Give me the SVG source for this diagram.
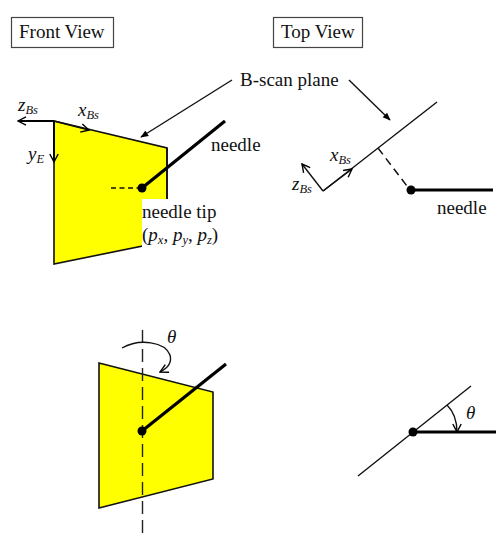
<svg xmlns="http://www.w3.org/2000/svg" width="502" height="540" viewBox="0 0 502 540">
<defs>
<marker id="o" viewBox="0 0 10 10" refX="9" refY="5" markerWidth="10" markerHeight="10" markerUnits="userSpaceOnUse" orient="auto"><path d="M1 0.8L9 5L1 9.2" fill="none" stroke="#000" stroke-width="1.4"/></marker>
<marker id="f" viewBox="0 0 10 10" refX="9" refY="5" markerWidth="8" markerHeight="8" markerUnits="userSpaceOnUse" orient="auto"><path d="M0 1L10 5L0 9z" fill="#000"/></marker>
</defs>
<style>
text{font-family:"Liberation Serif","Times New Roman",serif;fill:#111;font-size:19px}
.i{font-style:italic}
.s{font-size:12.500px;font-style:italic}
.b{fill:#fff;stroke:#444;stroke-width:1.2}
.p{fill:#ff0;stroke:#111;stroke-width:1.6}
.l{fill:none;stroke:#111;stroke-width:1.4}
.m{fill:none;stroke:#000;stroke-width:1.8}
.n{fill:none;stroke:#000;stroke-width:3.2}
.d{fill:none;stroke:#111;stroke-width:1.5;stroke-dasharray:5 3.500}
.a{fill:none;stroke:#222;stroke-width:1.4;stroke-dasharray:13 6}
</style>
<g id="plane-front">
<path class="p" d="M54 121L167 148V241L54 264Z"/>
<rect x="142" y="199" width="30" height="48" fill="#fff"/>
<path d="M167 148V199" class="p"/>
</g>
<g id="plane-rotated">
<path class="p" d="M99 363L213 392V479L99 508Z"/>
</g>
<g id="connectors">
<line class="m" x1="54" y1="121" x2="18" y2="121" marker-end="url(#o)"/>
<line class="m" x1="54" y1="121" x2="54" y2="162" marker-end="url(#o)"/>
<line class="l" x1="54" y1="121" x2="89" y2="130" marker-end="url(#o)"/>
<line class="d" x1="111" y1="188" x2="141" y2="188"/>
<line class="n" x1="142" y1="188" x2="225" y2="121"/>
<line class="l" x1="232" y1="80" x2="141" y2="137" marker-end="url(#f)"/>
<line class="l" x1="349" y1="80" x2="390" y2="120" marker-end="url(#f)"/>
<line class="l" x1="323" y1="191" x2="437" y2="102"/>
<line class="l" x1="323" y1="191" x2="352" y2="169" marker-end="url(#o)"/>
<line class="l" x1="323" y1="191" x2="302" y2="164" marker-end="url(#o)"/>
<line class="d" x1="378" y1="148" x2="410" y2="190" style="stroke-dasharray:8 5"/>
<line class="n" x1="411" y1="190" x2="493" y2="190"/>
<line class="a" x1="142.500" y1="330" x2="142.500" y2="535"/>
<line class="n" x1="142" y1="431" x2="226" y2="364"/>
<path class="l" d="M122 348C140 338 165 342 170 355C172 362 168 368 160 372" marker-end="url(#o)"/>
<line class="l" x1="358" y1="476" x2="471" y2="386"/>
<line class="n" x1="413" y1="432" x2="496" y2="432"/>
<path class="l" d="M447 405C455 413 457 422 457 432" marker-end="url(#o)"/>
</g>
<g id="needle-tip-front"><circle cx="142" cy="188" r="4.500" fill="#000"/></g>
<g id="needle-tip-top"><circle cx="411" cy="190" r="4.500" fill="#000"/></g>
<g id="needle-tip-rotated"><circle cx="142" cy="431" r="4.500" fill="#000"/></g>
<g id="needle-tip-rotated-top"><circle cx="413" cy="432" r="4.500" fill="#000"/></g>
<g id="front-view"><rect class="b" x="11.500" y="17.500" width="102" height="30"/><text x="19" y="38">Front View</text></g>
<g id="top-view"><rect class="b" x="273.500" y="17.500" width="89" height="30"/><text x="281" y="38">Top View</text></g>
<g id="labels">
<text x="240" y="86">B-scan plane</text>
<text x="211" y="151">needle</text>
<text x="437" y="214">needle</text>
<text x="142" y="218">needle tip</text>
<text x="142" y="241">(<tspan class="i">p</tspan><tspan class="s" dy="3">x</tspan><tspan dy="-3">, </tspan><tspan class="i">p</tspan><tspan class="s" dy="3">y</tspan><tspan dy="-3">, </tspan><tspan class="i">p</tspan><tspan class="s" dy="3">z</tspan><tspan dy="-3">)</tspan></text>
<text class="i" x="18" y="111">z<tspan class="s" dy="3">Bs</tspan></text>
<text class="i" x="78" y="116">x<tspan class="s" dy="3">Bs</tspan></text>
<text class="i" x="28" y="160">y<tspan class="s" dy="3">E</tspan></text>
<text class="i" x="330" y="161">x<tspan class="s" dy="3">Bs</tspan></text>
<text class="i" x="292" y="190">z<tspan class="s" dy="3">Bs</tspan></text>
<text class="i" x="167" y="343">θ</text>
<text class="i" x="466" y="419">θ</text>
</g>
</svg>
